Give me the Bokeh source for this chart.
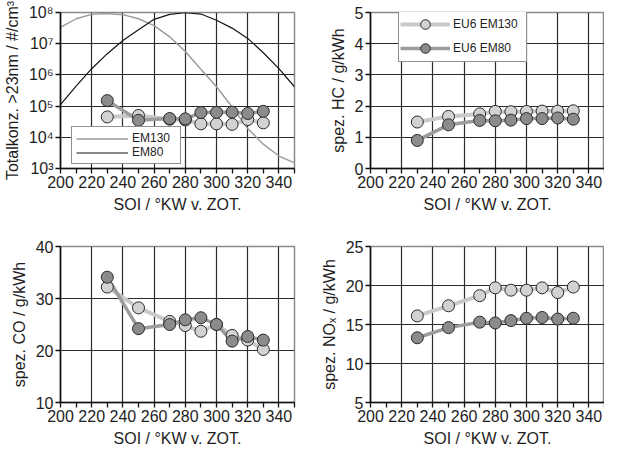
from bokeh.plotting import figure
from bokeh.layouts import gridplot
from bokeh.models import (Range1d, FixedTicker, Legend, LegendItem,
                          CustomJSTickFormatter)
from bokeh.embed import file_html
from bokeh.resources import INLINE

# ---------------- data ----------------
SOI = [230, 250, 270, 280, 290, 300, 310, 320, 330]

PN_EM130 = [4.5e4, 5.0e4, 3.8e4, 3.6e4, 2.7e4, 2.7e4, 2.6e4, 3.7e4, 2.9e4]
PN_EM80 = [1.5e5, 3.5e4, 4.0e4, 3.9e4, 6.2e4, 6.3e4, 6.4e4, 5.8e4, 6.8e4]

HC_EM130 = [1.49, 1.67, 1.75, 1.83, 1.82, 1.83, 1.84, 1.84, 1.85]
HC_EM80 = [0.90, 1.40, 1.54, 1.53, 1.55, 1.60, 1.60, 1.62, 1.58]

CO_EM130 = [32.2, 28.2, 25.6, 24.8, 23.7, 25.0, 22.9, 22.0, 20.2]
CO_EM80 = [34.1, 24.2, 25.0, 25.9, 26.3, 25.0, 21.8, 22.7, 22.0]

NOX_EM130 = [16.1, 17.4, 18.7, 19.7, 19.4, 19.4, 19.7, 19.1, 19.8]
NOX_EM80 = [13.3, 14.6, 15.3, 15.2, 15.5, 15.8, 15.9, 15.7, 15.8]

CURVE_SOI = [200, 210, 220, 230, 240, 250, 260, 270, 280, 290, 300,
             310, 320, 330, 340, 350]
CURVE_EM130 = [3.31e7, 6.31e7, 8.71e7, 9.33e7, 8.51e7, 6.31e7, 3.80e7, 1.66e7,
               5.62e6, 1.51e6, 4.17e5, 9.33e4, 1.91e4, 6.03e3, 2.51e3, 1.51e3]
CURVE_EM80 = [1.12e5, 4.37e5, 1.58e6, 4.79e6, 1.26e7, 2.82e7, 6.03e7, 8.71e7,
              9.8e7, 8.91e7, 5.62e7, 3.16e7, 1.48e7, 5.13e6, 1.58e6, 4.17e5]

X_RANGE = (200, 350)
X_TICKS = [200, 220, 240, 260, 280, 300, 320, 340]
X_MINOR_TICKS = [210, 230, 250, 270, 290, 310, 330, 350]
PN_TICKS = [1e3, 1e4, 1e5, 1e6, 1e7, 1e8]
PN_TICK_LABELS = ["10³", "10⁴", "10⁵", "10⁶", "10⁷", "10⁸"]
HC_TICKS = [0, 1, 2, 3, 4, 5]
CO_TICKS = [10, 20, 30, 40]
NOX_TICKS = [5, 10, 15, 20, 25]

X_LABEL = "SOI / °KW v. ZOT."
PN_LABEL = "Totalkonz. >23nm / #/cm³"
HC_LABEL = "spez. HC / g/kWh"
CO_LABEL = "spez. CO / g/kWh"
NOX_LABEL = "spez. NOₓ / g/kWh"

SERIES_LABELS = ["EU6 EM130", "EU6 EM80"]
CURVE_LABELS = ["EM130", "EM80"]

# ---------------- style ----------------
FONT = "Liberation Sans"
TXT = "#1e1e1e"
LIGHT_LINE = "#c9c9c9"
DARK_LINE = "#9c9c9c"
LIGHT_FILL = "#d2d2d2"
DARK_FILL = "#8b8b8b"
EDGE = "#2a2a2a"
GRID = "#2b2b2b"


def make_fig(width, height, yticks, ylabel, y_type="linear",
             right=16, top=12, bottom=66):
    y0, y1 = yticks[0], yticks[-1]
    kw = dict(y_axis_type="log") if y_type == "log" else {}
    p = figure(width=width, height=height, x_range=Range1d(*X_RANGE),
               y_range=Range1d(y0, y1), output_backend="svg",
               toolbar_location=None, min_border_left=60,
               min_border_right=right, min_border_top=top,
               min_border_bottom=bottom, **kw)
    p.outline_line_color = "#8a8a8a"
    p.outline_line_width = 1.5

    p.xaxis.ticker = FixedTicker(ticks=X_TICKS, minor_ticks=X_MINOR_TICKS)
    p.yaxis.ticker = FixedTicker(ticks=yticks)
    p.xgrid.grid_line_color = GRID
    p.xgrid.grid_line_width = 1.2
    p.ygrid.grid_line_color = GRID
    p.ygrid.grid_line_width = 1.2

    for ax in (p.xaxis, p.yaxis):
        ax.major_label_text_font = FONT
        ax.major_label_text_font_size = "16px"
        ax.major_label_text_color = TXT
        ax.axis_label_text_font = FONT
        ax.axis_label_text_font_size = "16px"
        ax.axis_label_text_font_style = "normal"
        ax.axis_label_text_color = TXT
        ax.axis_line_color = "#111111"
        ax.axis_line_width = 1.6
        ax.major_tick_in = 0
        ax.major_tick_out = 5
        ax.major_tick_line_color = "#111111"
        ax.major_tick_line_width = 1.3
        ax.minor_tick_in = 0
        ax.minor_tick_line_color = "#111111"
        ax.minor_tick_line_width = 1.3
        ax.major_label_standoff = 2
        ax.axis_label_standoff = 5
    p.xaxis.minor_tick_out = 5
    p.yaxis.minor_tick_out = 0
    p.xaxis.axis_label = X_LABEL
    p.yaxis.axis_label = ylabel
    return p


def add_series(p, y130, y80):
    l130 = p.line(SOI, y130, line_color=LIGHT_LINE, line_width=4)
    l80 = p.line(SOI, y80, line_color=DARK_LINE, line_width=3.5)
    c130 = p.scatter(SOI, y130, size=12, fill_color=LIGHT_FILL,
                     line_color=EDGE, line_width=1)
    c80 = p.scatter(SOI, y80, size=12, fill_color=DARK_FILL,
                    line_color=EDGE, line_width=1)
    return (l130, c130), (l80, c80)


def style_legend(lg, font_size):
    lg.border_line_color = "#222222"
    lg.border_line_width = 1
    lg.background_fill_color = "white"
    lg.background_fill_alpha = 1.0
    lg.label_text_font = FONT
    lg.label_text_font_size = font_size
    lg.label_text_color = TXT
    lg.margin = 0


# ---------------- panel 1: particle number ----------------
p1 = make_fig(310, 234, PN_TICKS, PN_LABEL, y_type="log")
p1.yaxis.formatter = CustomJSTickFormatter(
    args=dict(vals=PN_TICKS, labels=PN_TICK_LABELS),
    code="""
    for (let i = 0; i < vals.length; i++) {
        if (Math.abs(Math.log10(vals[i]) - Math.log10(tick)) < 1e-6) return labels[i];
    }
    return '';
    """)
r_c130 = p1.line(CURVE_SOI, CURVE_EM130, line_color="#9a9a9a", line_width=1.4)
r_c80 = p1.line(CURVE_SOI, CURVE_EM80, line_color="#151515", line_width=1.2)
add_series(p1, PN_EM130, PN_EM80)
lg1 = Legend(items=[LegendItem(label=CURVE_LABELS[0], renderers=[r_c130]),
                    LegendItem(label=CURVE_LABELS[1], renderers=[r_c80])],
             location=(11, 4), glyph_width=52, glyph_height=13,
             label_height=13, label_standoff=4, label_width=44,
             padding=4, spacing=0)
style_legend(lg1, "12px")
p1.add_layout(lg1)

# ---------------- panel 2: HC ----------------
p2 = make_fig(294, 234, HC_TICKS, HC_LABEL, right=0)
s130, s80 = add_series(p2, HC_EM130, HC_EM80)
lg2 = Legend(items=[LegendItem(label=SERIES_LABELS[0], renderers=list(s130)),
                    LegendItem(label=SERIES_LABELS[1], renderers=list(s80))],
             location=(28, 106), glyph_width=50, glyph_height=24,
             label_height=24, label_standoff=3, label_width=72,
             padding=1, spacing=-8)
style_legend(lg2, "12px")
p2.add_layout(lg2)

# ---------------- panel 3: CO ----------------
p3 = make_fig(310, 216, CO_TICKS, CO_LABEL, bottom=48)
add_series(p3, CO_EM130, CO_EM80)

# ---------------- panel 4: NOx ----------------
p4 = make_fig(294, 216, NOX_TICKS, NOX_LABEL, right=0, bottom=48)
add_series(p4, NOX_EM130, NOX_EM80)

grid = gridplot([[p1, p2], [p3, p4]], toolbar_location=None)

open("out.html", "w").write(file_html(grid, INLINE))
